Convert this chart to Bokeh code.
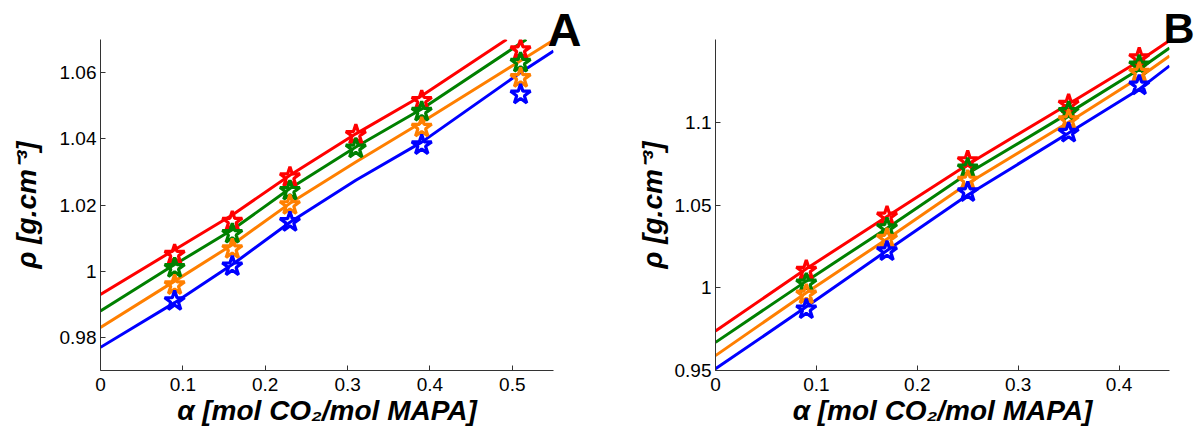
from bokeh.plotting import figure
from bokeh.models import Range1d, FixedTicker, Title
from bokeh.layouts import row
from bokeh.embed import file_html
from bokeh.resources import INLINE

# ---------------- data : panel A ----------------
a_red_x = [0, 0.09, 0.16, 0.23, 0.31, 0.39, 0.493]
a_line_red = [0.993, 1.0065, 1.017, 1.029, 1.0415, 1.053, 1.070]
a_green_x = [0, 0.09, 0.16, 0.23, 0.31, 0.39, 0.517]
a_line_green = [0.988, 1.002, 1.0125, 1.025, 1.0375, 1.049, 1.070]
a_ob_x = [0, 0.09, 0.16, 0.23, 0.31, 0.39, 0.51, 0.55]
a_line_orange = [0.983, 0.997, 1.008, 1.0205, 1.033, 1.045, 1.0636, 1.0698]
a_line_blue = [0.977, 0.9905, 1.002, 1.0148, 1.0275, 1.039, 1.060, 1.0665]

a_pts_x_rg = [0.09, 0.16, 0.23, 0.31, 0.39, 0.51]
a_pts_x_ob = [0.09, 0.16, 0.23, 0.39, 0.51]
a_pts_red = [1.005, 1.015, 1.0284, 1.0412, 1.0515, 1.0668]
a_pts_green = [1.001, 1.0113, 1.0243, 1.0371, 1.0482, 1.063]
a_pts_orange = [0.9958, 1.0067, 1.020, 1.0434, 1.0584]
a_pts_blue = [0.991, 1.0015, 1.0149, 1.0381, 1.0534]

a_xticks = [0, 0.1, 0.2, 0.3, 0.4, 0.5]
a_xtick_labels = ["0", "0.1", "0.2", "0.3", "0.4", "0.5"]
a_yticks = [0.98, 1.0, 1.02, 1.04, 1.06]
a_ytick_labels = ["0.98", "1", "1.02", "1.04", "1.06"]
a_xlim = (0, 0.55)
a_ylim = (0.97, 1.07)

# ---------------- data : panel B ----------------
b_line_x = [0, 0.09, 0.17, 0.25, 0.35, 0.42, 0.45]
b_line_red = [0.9739, 1.0115, 1.043, 1.0745, 1.111, 1.137, 1.1494]
b_line_green = [0.967, 1.004, 1.036, 1.069, 1.1055, 1.132, 1.1449]
b_line_orange = [0.959, 0.997, 1.0295, 1.063, 1.100, 1.127, 1.140]
b_line_blue = [0.951, 0.9885, 1.0225, 1.056, 1.0935, 1.120, 1.1341]

b_pts_x = [0.09, 0.17, 0.25, 0.35, 0.42]
b_pts_red = [1.0104, 1.0431, 1.0766, 1.1107, 1.1388]
b_pts_green = [1.0026, 1.0361, 1.0722, 1.1063, 1.1344]
b_pts_orange = [0.996, 1.0297, 1.0648, 1.1013, 1.130]
b_pts_blue = [0.987, 1.0221, 1.0578, 1.0937, 1.1223]

b_xticks = [0, 0.1, 0.2, 0.3, 0.4]
b_xtick_labels = ["0", "0.1", "0.2", "0.3", "0.4"]
b_yticks = [0.95, 1.0, 1.05, 1.1]
b_ytick_labels = ["0.95", "1", "1.05", "1.1"]
b_xlim = (0, 0.45)
b_ylim = (0.95, 1.15)

RED, GREEN, ORANGE, BLUE = "#FF0000", "#008000", "#FF7F00", "#0000FF"
FONT = "Liberation Sans"
XLABEL = "\u03b1 [mol CO\u2082/mol MAPA]"
YLABEL = "\u03c1 [g.cm\u207b\u00b3]"

H = 439
FRAME_TOP = 39
FRAME_BOTTOM = 370


def make_panel(left, right, xlim, ylim, xticks, xlabels, yticks, ylabels,
               ylab_standoff, letter, letter_size, letter_offset, letter_standoff):
    p = figure(width=600, height=H, output_backend="svg", toolbar_location=None,
               title=None,
               x_range=Range1d(*xlim), y_range=Range1d(*ylim),
               min_border_left=left, min_border_right=right, min_border_top=FRAME_TOP,
               min_border_bottom=H - FRAME_BOTTOM)
    p.xgrid.visible = False
    p.ygrid.visible = False
    p.outline_line_color = None
    p.background_fill_color = "white"
    p.border_fill_color = "white"
    for ax in (p.xaxis[0], p.yaxis[0]):
        ax.axis_line_color = "#333333"
        ax.axis_line_width = 1
        ax.major_tick_line_color = "#333333"
        ax.major_tick_in = 5
        ax.major_tick_out = 0
        ax.minor_tick_line_color = None
        ax.major_label_text_font = FONT
        ax.major_label_text_font_size = "19px"
        ax.major_label_text_color = "black"
        ax.axis_label_text_font = FONT
        ax.axis_label_text_font_style = "bold italic"
        ax.axis_label_text_font_size = "28px"
        ax.axis_label_text_color = "black"
    p.xaxis[0].ticker = FixedTicker(ticks=xticks)
    p.xaxis[0].major_label_overrides = {t: l for t, l in zip(xticks, xlabels)}
    p.xaxis[0].major_label_standoff = 7
    p.xaxis[0].axis_label = XLABEL
    p.xaxis[0].axis_label_standoff = 1
    p.yaxis[0].ticker = FixedTicker(ticks=yticks)
    p.yaxis[0].major_label_overrides = {t: l for t, l in zip(yticks, ylabels)}
    p.yaxis[0].major_label_standoff = 4
    p.yaxis[0].axis_label = YLABEL
    p.yaxis[0].axis_label_standoff = ylab_standoff
    # panel letter, drawn in the band above the axes box
    p.add_layout(Title(text=letter, text_font=FONT, text_font_style="bold",
                       text_font_size=letter_size, text_color="black",
                       align="left", vertical_align="top",
                       offset=letter_offset, standoff=letter_standoff), "above")
    return p


def draw(p, lines, pts):
    for xs, ys, c in lines:
        p.line(xs, ys, line_color=c, line_width=3)
    for xs, ys, c in pts:
        p.scatter(xs, ys, marker="star", size=21, fill_color=None,
                  line_color=c, line_width=3.2)


# ---------------- panel A ----------------
p1 = make_panel(100, 47, a_xlim, a_ylim, a_xticks, a_xtick_labels,
                a_yticks, a_ytick_labels, 15, "A", "47px", 447, -37)
draw(p1,
     [(a_red_x, a_line_red, RED), (a_green_x, a_line_green, GREEN),
      (a_ob_x, a_line_orange, ORANGE), (a_ob_x, a_line_blue, BLUE)],
     [(a_pts_x_rg, a_pts_red, RED), (a_pts_x_rg, a_pts_green, GREEN),
      (a_pts_x_ob, a_pts_orange, ORANGE), (a_pts_x_ob, a_pts_blue, BLUE)])

# ---------------- panel B ----------------
p2 = make_panel(115, 31, b_xlim, b_ylim, b_xticks, b_xtick_labels,
                b_yticks, b_ytick_labels, 4, "B", "43px", 448, -29)
draw(p2,
     [(b_line_x, b_line_red, RED), (b_line_x, b_line_green, GREEN),
      (b_line_x, b_line_orange, ORANGE), (b_line_x, b_line_blue, BLUE)],
     [(b_pts_x, b_pts_red, RED), (b_pts_x, b_pts_green, GREEN),
      (b_pts_x, b_pts_orange, ORANGE), (b_pts_x, b_pts_blue, BLUE)])

layout = row(p1, p2)
open("out.html", "w").write(file_html(layout, INLINE))
